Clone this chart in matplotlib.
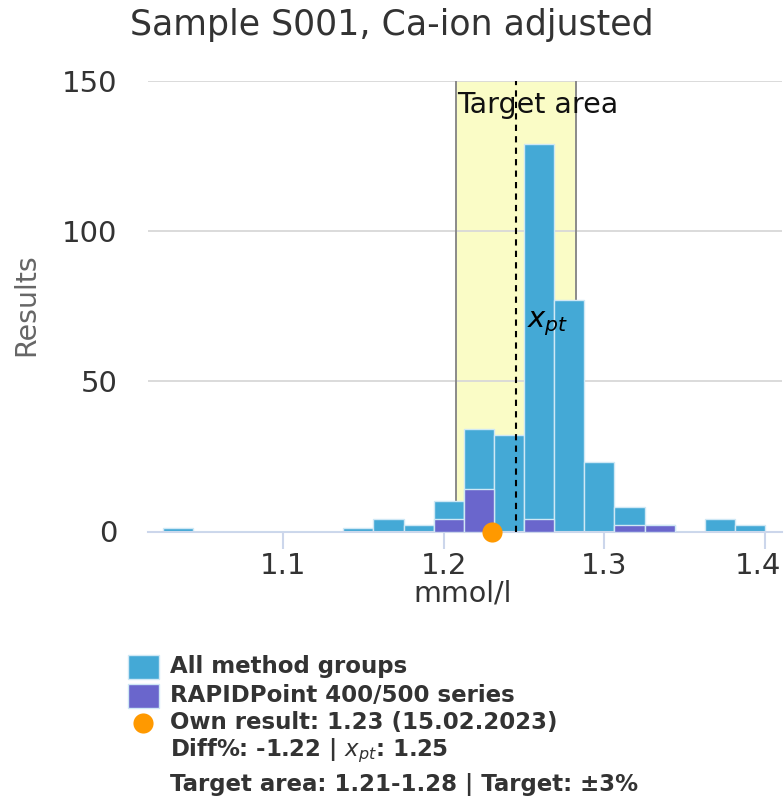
import matplotlib
matplotlib.use('Agg')
import matplotlib.pyplot as plt
from matplotlib.patches import Rectangle
from matplotlib.transforms import ScaledTranslation

# ---- data ----
bin_lefts = [1.025, 1.04375, 1.0625, 1.08125, 1.1, 1.11875, 1.1375, 1.15625, 1.175, 1.19375,
             1.2125, 1.23125, 1.25, 1.26875, 1.2875, 1.30625, 1.325, 1.34375, 1.3625, 1.38125]
bin_width = 0.01875
all_counts = [1, 0, 0, 0, 0, 0, 1, 4, 2, 10, 34, 32, 129, 77, 23, 8, 2, 0, 4, 2]
rapid_counts = [0, 0, 0, 0, 0, 0, 0, 0, 0, 4, 14, 0, 4, 0, 0, 2, 2, 0, 0, 0]
xpt = 1.2452
own_result = 1.23
target_low, target_high = 1.2078, 1.2826
x_ticks = [1.1, 1.2, 1.3, 1.4]
x_tick_labels = ['1.1', '1.2', '1.3', '1.4']
y_ticks = [0, 50, 100, 150]
title = 'Sample S001, Ca-ion adjusted'
legend_lines = ['All method groups', 'RAPIDPoint 400/500 series',
                'Own result: 1.23 (15.02.2023)', 'Diff%: -1.22 | $x_{pt}$: 1.25',
                'Target area: 1.21-1.28 | Target: \u00b13%']

W, H = 784, 810
BLUE = '#44A9D6'
PURPLE = '#6A66CC'
ORANGE = '#FF9900'

fig = plt.figure(figsize=(W / 100, H / 100), dpi=100)
ax = fig.add_axes([148 / W, 1 - 531.5 / H, (782 - 148) / W, (531.5 - 80.7) / H])

ax.set_xlim(1.0159, 1.4106)
ax.set_ylim(0, 150)

# target area
ax.axvspan(target_low, target_high, color='#FAFCC6', zorder=0.2, lw=0)
for v in (target_low, target_high):
    ax.axvline(v, color='#8a8a8a', lw=1.4, zorder=1)

# bars
ax.bar(bin_lefts, all_counts, width=bin_width, align='edge', color=BLUE,
       edgecolor='#cfe8f5', linewidth=1.0, zorder=2)
ax.bar(bin_lefts, rapid_counts, width=bin_width, align='edge', color=PURPLE,
       edgecolor='#cfe8f5', linewidth=1.0, zorder=3)

# xpt dashed line
ax.plot([xpt, xpt], [0, 150], color='black', lw=1.5, ls=(0, (3, 2.5)), zorder=4)
ax.text(xpt + 0.0065, 69, '$x_{pt}$', fontsize=21, ha='left', va='center', zorder=6)
ax.text(target_low + 0.0005, 142, 'Target area', fontsize=20.5, ha='left', va='center',
        color='#111111', zorder=6)

# own result
ax.plot([own_result], [0], 'o', ms=14.5, color=ORANGE, clip_on=False, zorder=7, mec='none')

# axes styling
for s in ('top', 'right', 'left'):
    ax.spines[s].set_visible(False)
ax.spines['bottom'].set_color('#ccd6eb')
ax.spines['bottom'].set_linewidth(1.5)
ax.set_xticks(x_ticks)
ax.set_xticklabels(x_tick_labels)
ax.set_yticks(y_ticks)
ax.tick_params(axis='x', length=12, width=1.5, color='#ccd6eb', labelsize=21,
               labelcolor='#333333', pad=3)
ax.tick_params(axis='y', length=0, labelsize=21, labelcolor='#333333', pad=22)
ax.yaxis.grid(True, color='#d8d8d8', lw=1.3)
ax.set_axisbelow(True)
ax.set_facecolor('white')

# shift the last x tick label left so it fits inside the figure
last_lbl = ax.get_xticklabels()[-1]
last_lbl.set_transform(last_lbl.get_transform() + ScaledTranslation(-7 / 100, 0, fig.dpi_scale_trans))

# titles
fig.text(392 / W, 1 - 25 / H, title, ha='center', va='center', fontsize=25, color='#333333')
fig.text(26 / W, 1 - 305 / H, 'Results', rotation=90, ha='center', va='center',
         fontsize=20.5, color='#666666')
fig.text(463 / W, 1 - 593 / H, 'mmol/l', ha='center', va='center', fontsize=20.5,
         color='#333333')

# legend (manual)
line_y = [667, 696, 723, 751, 785]
text_x = 170
fig.add_artist(Rectangle((128 / W, 1 - (line_y[0] + 12) / H), 31 / W, 24 / H,
                         transform=fig.transFigure, facecolor=BLUE, edgecolor='#cfe8f5', lw=1))
fig.add_artist(Rectangle((128 / W, 1 - (line_y[1] + 12) / H), 31 / W, 24 / H,
                         transform=fig.transFigure, facecolor=PURPLE, edgecolor='#cfe8f5', lw=1))
fig.add_artist(plt.Line2D([143 / W], [1 - line_y[2] / H], marker='o', ms=14.5, color=ORANGE,
                          mec='none', transform=fig.transFigure))
for txt, y in zip(legend_lines, line_y):
    fig.text(text_x / W, 1 - y / H, txt, ha='left', va='center', fontsize=16.5,
             fontweight='bold', color='#333333')

fig.savefig('out.png', dpi=100, facecolor='white')
